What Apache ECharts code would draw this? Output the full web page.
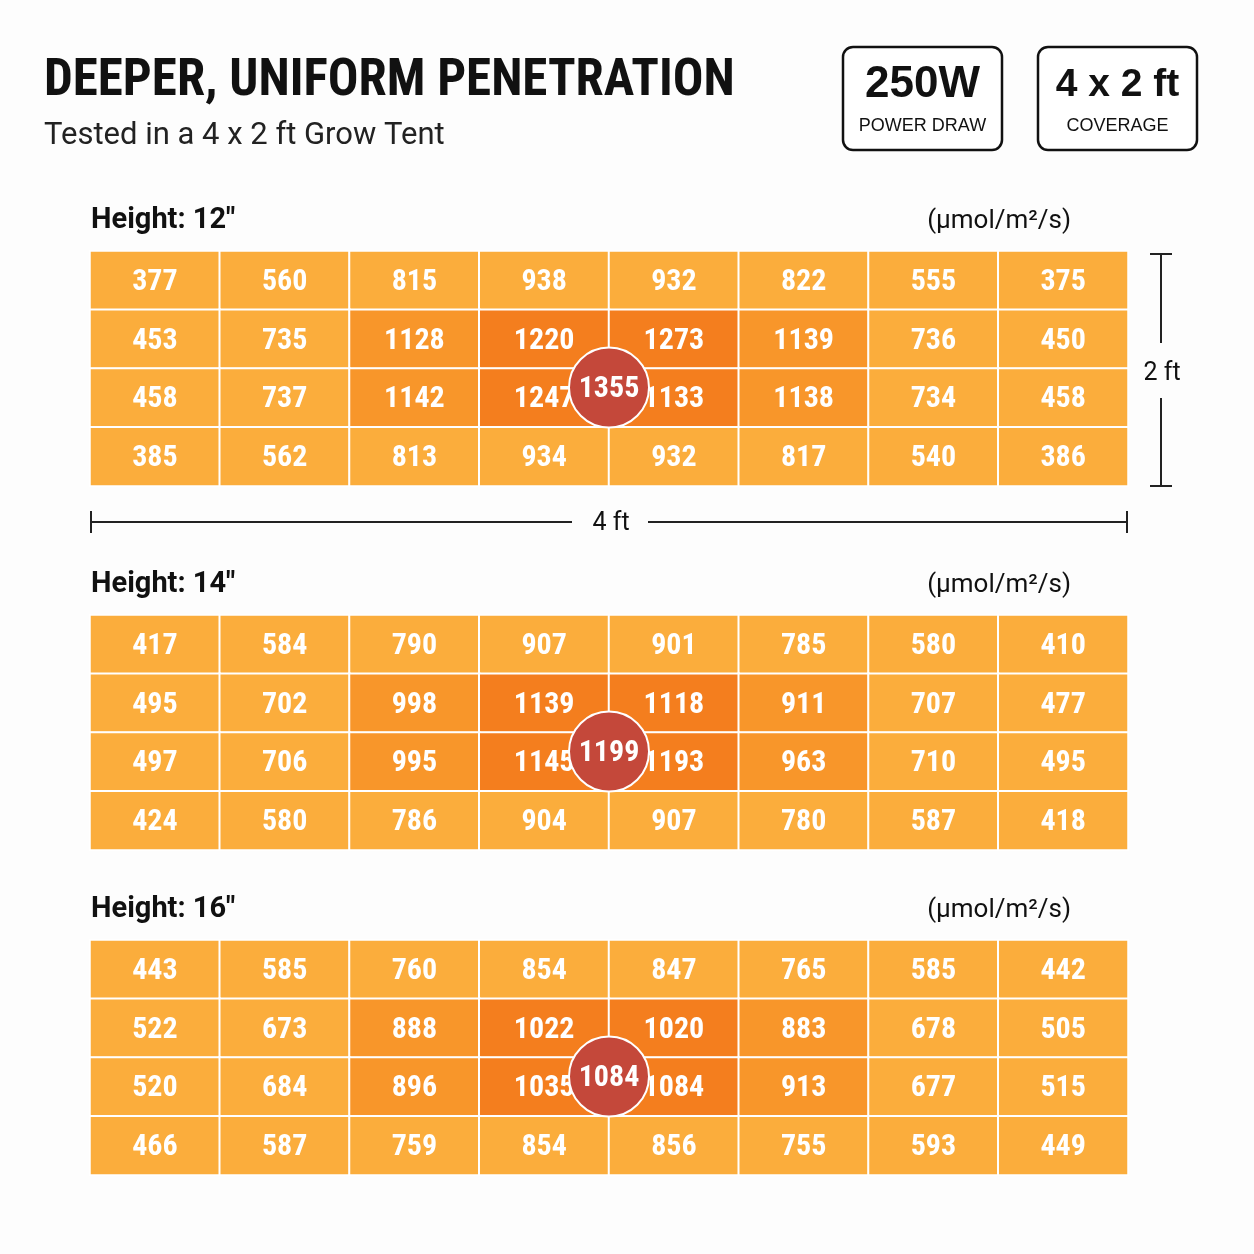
<!DOCTYPE html>
<html>
<head>
<meta charset="utf-8">
<script src="https://cdn.jsdelivr.net/npm/echarts@6/dist/echarts.min.js"></script>
<style>
html,body{margin:0;padding:0;background:#fdfdfd;}
#chart{width:1254px;height:1254px;}
</style>
</head>
<body>
<div id="chart"></div>
<script>
// ---- data ----
const columns = ['C1','C2','C3','C4','C5','C6','C7','C8'];
const rows = ['R1','R2','R3','R4'];
const heightLabels = ['Height: 12"', 'Height: 14"', 'Height: 16"'];
const unitLabel = '(µmol/m²/s)';
const ppfd12 = [
  [377,560,815,938,932,822,555,375],
  [453,735,1128,1220,1273,1139,736,450],
  [458,737,1142,1247,1133,1138,734,458],
  [385,562,813,934,932,817,540,386]
];
const ppfd14 = [
  [417,584,790,907,901,785,580,410],
  [495,702,998,1139,1118,911,707,477],
  [497,706,995,1145,1193,963,710,495],
  [424,580,786,904,907,780,587,418]
];
const ppfd16 = [
  [443,585,760,854,847,765,585,442],
  [522,673,888,1022,1020,883,678,505],
  [520,684,896,1035,1084,913,677,515],
  [466,587,759,854,856,755,593,449]
];
const peakValues = [1355, 1199, 1084];
const titleText = 'DEEPER, UNIFORM PENETRATION';
const subtitleText = 'Tested in a 4 x 2 ft Grow Tent';
const badges = [['250W','POWER DRAW'],['4 x 2 ft','COVERAGE']];
const widthLabel = '4 ft';
const depthLabel = '2 ft';

// ---- layout / style ----
const COND = '"Roboto Condensed", "Archivo Narrow", "DejaVu Sans Condensed", sans-serif';
const ROBOTO = 'Roboto, "Liberation Sans", sans-serif';
const SANS = '"Liberation Sans", Arial, sans-serif';
const gridTops = [251, 615, 940];
const gridLeft = 90, gridW = 1038, gridH = 235;
const tierColors = ['#FBAD3C', '#F8962A', '#F47E1E'];
const datasets = [ppfd12, ppfd14, ppfd16];

function tierOf(r, c) {
  if (r === 1 || r === 2) {
    if (c === 3 || c === 4) return 2;
    if (c === 2 || c === 5) return 1;
  }
  return 0;
}

const grid = [], xAxis = [], yAxis = [], series = [];
datasets.forEach((mat, i) => {
  grid.push({left: gridLeft, top: gridTops[i], width: gridW, height: gridH});
  xAxis.push({type: 'category', gridIndex: i, data: columns, show: false});
  yAxis.push({type: 'category', gridIndex: i, data: rows, inverse: true, show: false});
  xAxis.push({type: 'value', gridIndex: i, min: 0, max: columns.length, show: false});
  yAxis.push({type: 'value', gridIndex: i, min: 0, max: rows.length, inverse: true, show: false});
  const data = [];
  mat.forEach((row, r) => row.forEach((v, c) => {
    data.push({value: [c, r, v], itemStyle: {color: tierColors[tierOf(r, c)]}});
  }));
  series.push({
    type: 'heatmap', xAxisIndex: 2*i, yAxisIndex: 2*i,
    data: data,
    itemStyle: {borderColor: '#ffffff', borderWidth: 2},
    label: {show: true, color: '#ffffff', fontFamily: COND, fontWeight: 'bold', fontSize: 30, offset: [0, 2],
      formatter: p => p.value[2]},
    emphasis: {disabled: true}
  });
  series.push({
    type: 'scatter', xAxisIndex: 2*i+1, yAxisIndex: 2*i+1, z: 5,
    data: [[columns.length/2, rows.length/2, peakValues[i]]],
    symbol: 'circle', symbolSize: 80, symbolOffset: [0, 19],
    itemStyle: {color: '#C4483A', borderColor: '#ffffff', borderWidth: 2, opacity: 1},
    label: {show: true, position: 'inside', color: '#ffffff', fontFamily: COND, fontWeight: 'bold', fontSize: 30, offset: [0, 2],
      formatter: p => p.value[2]},
    emphasis: {disabled: true}
  });
});

const graphic = [
  {type: 'text', x: 44, y: 82, style: {text: titleText, font: 'bold 51px ' + COND, fill: '#111', verticalAlign: 'middle'}},
  {type: 'text', x: 44, y: 136, style: {text: subtitleText, font: '31px ' + ROBOTO, fill: '#222', verticalAlign: 'middle'}}
];
const badgeX = [843, 1038];
badges.forEach((b, k) => {
  graphic.push({type: 'rect', shape: {x: badgeX[k], y: 47, width: 159, height: 103, r: 10},
    style: {fill: '#ffffff', stroke: '#111', lineWidth: 2.5}});
  graphic.push({type: 'text', x: badgeX[k] + 79.5, y: 85, style: {text: b[0], font: 'bold ' + (k === 0 ? 44 : 39) + 'px ' + SANS, fill: '#111', align: 'center', verticalAlign: 'middle'}});
  graphic.push({type: 'text', x: badgeX[k] + 79.5, y: 126, style: {text: b[1], font: '18px ' + SANS, fill: '#111', align: 'center', verticalAlign: 'middle'}});
});
gridTops.forEach((t, i) => {
  graphic.push({type: 'text', x: 91, y: t - 30, style: {text: heightLabels[i], font: 'bold 29px ' + ROBOTO, fill: '#111', verticalAlign: 'middle'}});
  graphic.push({type: 'text', x: 1071, y: t - 30, style: {text: unitLabel, font: '26px ' + ROBOTO, fill: '#111', align: 'right', verticalAlign: 'middle'}});
});
const lineStyle = {stroke: '#222', lineWidth: 2};
const t0 = gridTops[0];
graphic.push(
  {type: 'line', shape: {x1: 1161, y1: t0 + 3, x2: 1161, y2: t0 + 92}, style: lineStyle},
  {type: 'line', shape: {x1: 1161, y1: t0 + 147, x2: 1161, y2: t0 + gridH}, style: lineStyle},
  {type: 'line', shape: {x1: 1150, y1: t0 + 3, x2: 1172, y2: t0 + 3}, style: lineStyle},
  {type: 'line', shape: {x1: 1150, y1: t0 + gridH, x2: 1172, y2: t0 + gridH}, style: lineStyle},
  {type: 'text', x: 1162, y: t0 + 123, style: {text: depthLabel, font: '25px ' + ROBOTO, fill: '#111', align: 'center', verticalAlign: 'middle'}},
  {type: 'line', shape: {x1: 91, y1: 522, x2: 572, y2: 522}, style: lineStyle},
  {type: 'line', shape: {x1: 648, y1: 522, x2: 1127, y2: 522}, style: lineStyle},
  {type: 'line', shape: {x1: 91, y1: 511, x2: 91, y2: 533}, style: lineStyle},
  {type: 'line', shape: {x1: 1127, y1: 511, x2: 1127, y2: 533}, style: lineStyle},
  {type: 'text', x: 611, y: 524, style: {text: widthLabel, font: '25px ' + ROBOTO, fill: '#111', align: 'center', verticalAlign: 'middle'}}
);

const chart = echarts.init(document.getElementById('chart'));
chart.setOption({
  backgroundColor: '#fdfdfd',
  animation: false,
  grid, xAxis, yAxis, series, graphic
});
</script>
</body>
</html>
